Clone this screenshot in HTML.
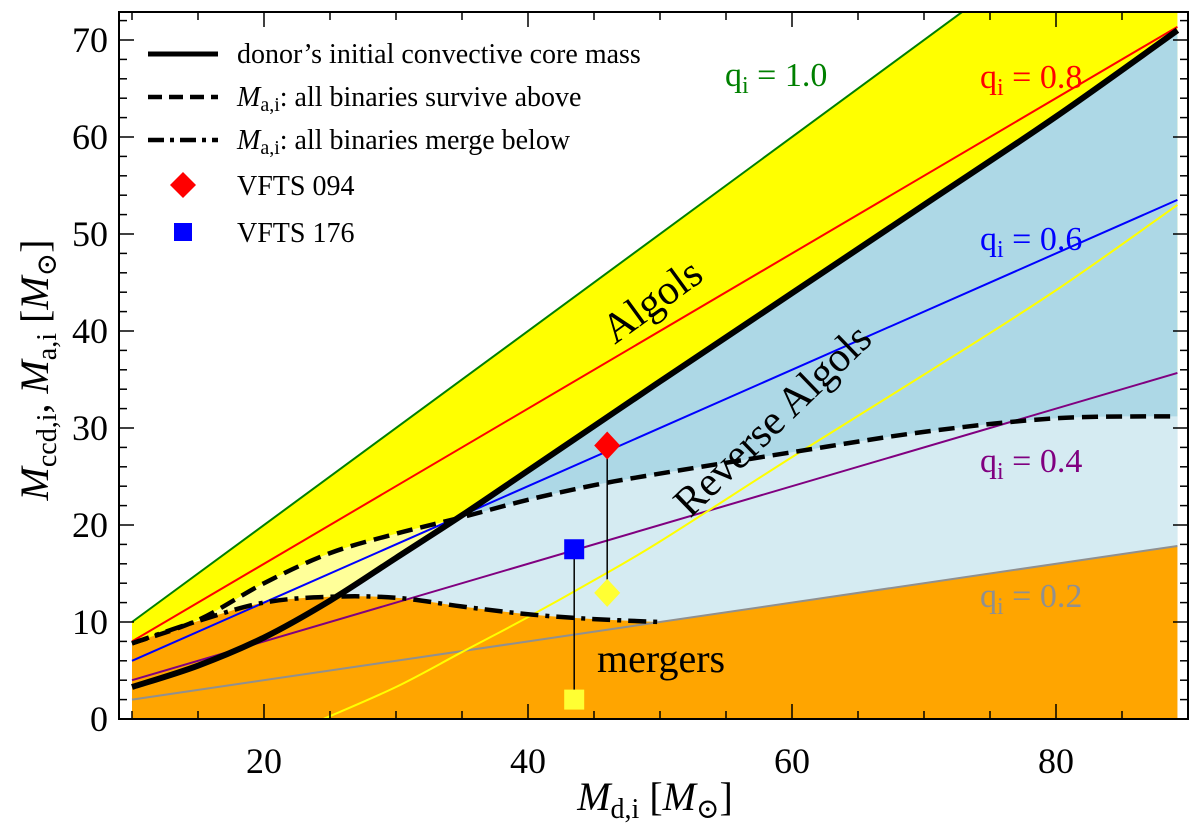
<!DOCTYPE html>
<html><head><meta charset="utf-8"><style>
body{margin:0;background:#fff;}
svg, svg text{font-family:"Liberation Serif","Times New Roman",Times,"DejaVu Serif",serif !important;}
</style></head><body>
<svg id="c" width="1200" height="826" viewBox="0 0 1200 826">
<defs><clipPath id="plotclip"><rect x="119" y="12" width="1069" height="707"/></clipPath>
<clipPath id="underDashed"><path id="udpath" d=""/></clipPath></defs>
<g id="fills" clip-path="url(#plotclip)"></g>
<g id="lines" clip-path="url(#plotclip)"></g>
<g id="axes"></g>
<g id="texts"></g>
</svg>
<script>
const qValues=[1.0,0.8,0.6,0.4,0.2];
const qColors=["#008000","#ff0000","#0000ff","#800080","#909090"];
const coreX=[10,15,20,25,30,35,40,45,50,60,70,80,89.2];
const coreY=[3.3,5.5,8.4,12.2,16.6,21.0,25.6,30.2,34.8,43.9,53,62.1,71];
const surviveX=[10,15,20,25,30,35,40,45,50,60,70,80,89.2];
const surviveY=[7.8,10.2,14,17.1,19.1,20.8,22.6,24.1,25.3,27.5,29.6,31,31.2];
const mergeX=[10,15,20,25,30,35,40,45,50];
const mergeY=[7.8,10.1,12,12.6,12.5,11.6,10.8,10.3,10.0];
const yellowX=[24.5,30,35,40,45,50,60,70,80,89.2];
const yellowY=[0,3.3,6.9,10.5,14.3,18.3,27,35.5,44.2,53];
const starNames=["VFTS 094","VFTS 176"];
const starX=[46,43.5];
const starYa=[28.2,17.5];
const starYb=[13,2];
const xTicks=[20,40,60,80];
const yTicks=[0,10,20,30,40,50,60,70];
const X0=10,X1=89.2;
const sx=v=>264+(v-20)*13.2;
const sy=v=>719-v*9.7;
const NS="http://www.w3.org/2000/svg";
function mk(tag,attrs,parent){const e=document.createElementNS(NS,tag);for(const k in attrs)e.setAttribute(k,attrs[k]);parent.appendChild(e);return e;}
function smooth(xs,ys){const P=xs.map((x,i)=>[sx(x),sy(ys[i])]);let d="M"+P[0][0]+","+P[0][1];
for(let i=0;i<P.length-1;i++){const p0=P[Math.max(0,i-1)],p1=P[i],p2=P[i+1],p3=P[Math.min(P.length-1,i+2)];
const c1=[p1[0]+(p2[0]-p0[0])/6,p1[1]+(p2[1]-p0[1])/6],c2=[p2[0]-(p3[0]-p1[0])/6,p2[1]-(p3[1]-p1[1])/6];
d+=` C${c1[0]},${c1[1]} ${c2[0]},${c2[1]} ${p2[0]},${p2[1]}`;}return d;}
function under(xs,ys){return smooth(xs,ys)+` L${sx(xs[xs.length-1])},${sy(0)} L${sx(xs[0])},${sy(0)} Z`;}
const F=document.getElementById('fills'),L=document.getElementById('lines'),A=document.getElementById('axes');
let e=mk('path',{d:under([X0,X1],[X0,X1]),fill:"#ffff00"},F);


e=mk('path',{d:under(surviveX,surviveY),fill:"#ffff99"},F);


e=mk('path',{d:under(coreX,coreY),fill:"#add8e6"},F);


document.getElementById('udpath').setAttribute('d',under(surviveX,surviveY));
e=mk('path',{d:under(coreX,coreY),fill:"#d5ebf2","clip-path":"url(#underDashed)"},F);


e=mk('path',{d:smooth(mergeX,mergeY)+` L${sx(X1)},${sy(0.2*X1)} L${sx(X1)},${sy(0)} L${sx(X0)},${sy(0)} Z`,fill:"#ffa500"},F);


qValues.forEach((q,i)=>{const l=mk('line',{x1:sx(X0),y1:sy(q*X0),x2:sx(X1),y2:sy(q*X1),stroke:qColors[i],"stroke-width":2},L);

});
e=mk('path',{d:smooth(yellowX,yellowY),fill:"none",stroke:"#ffff00","stroke-width":2},L);


e=mk('path',{d:smooth(surviveX,surviveY),fill:"none",stroke:"#000","stroke-width":4.5,"stroke-dasharray":"16 8"},L);


e=mk('path',{d:smooth(mergeX,mergeY),fill:"none",stroke:"#000","stroke-width":4.5,"stroke-dasharray":"18 7 4 7"},L);


e=mk('path',{d:smooth(coreX,coreY),fill:"none",stroke:"#000","stroke-width":6},L);


starX.forEach((x,i)=>{const X=sx(x),ya=sy(starYa[i]),yb=sy(starYb[i]);
const l=mk('line',{x1:X,y1:ya,x2:X,y2:yb,stroke:"#000","stroke-width":1.5},L);


let m1,m2;
if(i==0){m1=mk('polygon',{points:`${X},${ya-14} ${X+13},${ya} ${X},${ya+14} ${X-13},${ya}`,fill:"#ff0000"},L);
m2=mk('polygon',{points:`${X},${yb-14} ${X+13},${yb} ${X},${yb+14} ${X-13},${yb}`,fill:"#ffff33"},L);}
else{m1=mk('rect',{x:X-10,y:ya-10,width:20,height:20,fill:"#0000ff"},L);
m2=mk('rect',{x:X-10,y:yb-10,width:20,height:20,fill:"#ffff33"},L);}



});
e=mk('rect',{x:119,y:12,width:1069,height:707,fill:"none",stroke:"#000","stroke-width":2},A);


for(let v=10;v<=90;v+=5){const X=sx(v),len=(v%20==0)?15:8;
mk('line',{x1:X,y1:719,x2:X,y2:719-len,stroke:"#000","stroke-width":1.5},A);
mk('line',{x1:X,y1:12,x2:X,y2:12+len,stroke:"#000","stroke-width":1.5},A);}
for(let v=0;v<=72;v+=2){const Y=sy(v),len=(v%10==0)?15:8;
mk('line',{x1:119,y1:Y,x2:119+len,y2:Y,stroke:"#000","stroke-width":1.5},A);
mk('line',{x1:1188,y1:Y,x2:1188-len,y2:Y,stroke:"#000","stroke-width":1.5},A);}
xTicks.forEach(v=>{const t=mk('text',{x:sx(v),y:773,"font-size":36,"text-anchor":"middle"},A);t.textContent=v;

});
yTicks.forEach(v=>{const t=mk('text',{x:108,y:sy(v)+12,"font-size":36,"text-anchor":"end"},A);t.textContent=v;

});
document.getElementById('texts').innerHTML=`
<text x="655" y="810" font-size="40" text-anchor="middle"><tspan font-style="italic">M</tspan><tspan font-size="28" dy="8">d,i</tspan><tspan dy="-8"> [</tspan><tspan font-style="italic">M</tspan><tspan font-size="28" dy="8">⊙</tspan><tspan dy="-8">]</tspan></text>
<text transform="translate(48,370) rotate(-90)" font-size="40" text-anchor="middle"><tspan font-style="italic">M</tspan><tspan font-size="28" dy="8">ccd,i</tspan><tspan dy="-8">, </tspan><tspan font-style="italic">M</tspan><tspan font-size="28" dy="8">a,i</tspan><tspan dy="-8"> [</tspan><tspan font-style="italic">M</tspan><tspan font-size="28" dy="8">⊙</tspan><tspan dy="-8">]</tspan></text>
<text transform="translate(660,312) rotate(-36)" font-size="42" text-anchor="middle">Algols</text>
<text transform="translate(782,430) rotate(-44)" font-size="42" text-anchor="middle">Reverse Algols</text>
<text x="597" y="672" font-size="40">mergers</text>
<text x="725" y="86" font-size="34" fill="#008000">q<tspan font-size="24" dy="7">i</tspan><tspan dy="-7"> = 1.0</tspan></text>
<text x="980" y="88" font-size="34" fill="#ff0000">q<tspan font-size="24" dy="7">i</tspan><tspan dy="-7"> = 0.8</tspan></text>
<text x="980" y="250" font-size="34" fill="#0000ff">q<tspan font-size="24" dy="7">i</tspan><tspan dy="-7"> = 0.6</tspan></text>
<text x="980" y="472" font-size="34" fill="#800080">q<tspan font-size="24" dy="7">i</tspan><tspan dy="-7"> = 0.4</tspan></text>
<text x="980" y="607" font-size="34" fill="#909090">q<tspan font-size="24" dy="7">i</tspan><tspan dy="-7"> = 0.2</tspan></text>
<g font-size="28">
<line x1="148" y1="54" x2="218" y2="54" stroke="#000" stroke-width="5"/>
<text x="237" y="63">donor’s initial convective core mass</text>
<line x1="148" y1="97" x2="218" y2="97" stroke="#000" stroke-width="4.5" stroke-dasharray="14 7"/>
<text x="237" y="106"><tspan font-style="italic">M</tspan><tspan font-size="20" dy="5">a,i</tspan><tspan dy="-5">: all binaries survive above</tspan></text>
<line x1="148" y1="140" x2="218" y2="140" stroke="#000" stroke-width="4.5" stroke-dasharray="16 6 4 6"/>
<text x="237" y="149"><tspan font-style="italic">M</tspan><tspan font-size="20" dy="5">a,i</tspan><tspan dy="-5">: all binaries merge below</tspan></text>
<polygon points="183,172 196,185 183,198 170,185" fill="#ff0000"/>
<text x="237" y="195">VFTS 094</text>
<rect x="174" y="223" width="18" height="18" fill="#0000ff"/>
<text x="237" y="242">VFTS 176</text>
</g>`;
</script>
</body></html>
